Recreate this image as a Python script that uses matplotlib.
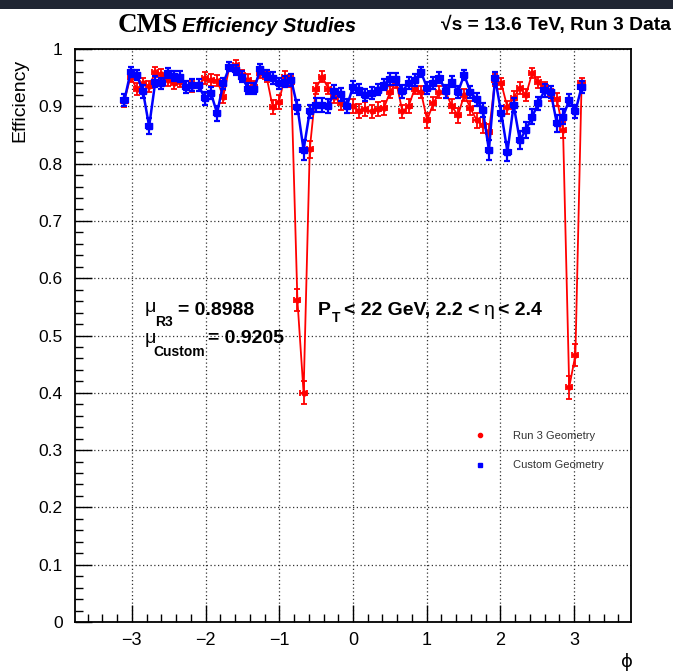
import matplotlib
matplotlib.use("Agg")
import matplotlib.pyplot as plt
import numpy as np
from matplotlib.ticker import MultipleLocator
from matplotlib.patches import Rectangle
from matplotlib.lines import Line2D

# ---------------- data ----------------
n_bins = 75
phi_min, phi_max = -np.pi, np.pi

eff_r3 = [0.910, 0.952, 0.930, 0.940, 0.935, 0.960, 0.956, 0.946, 0.940, 0.943,
          0.934, 0.935, 0.937, 0.949, 0.946, 0.945, 0.917, 0.969, 0.972, 0.955,
          0.946, 0.934, 0.958, 0.952, 0.899, 0.908, 0.952, 0.943, 0.562, 0.400,
          0.825, 0.931, 0.952, 0.931, 0.917, 0.905, 0.900, 0.900, 0.892, 0.895,
          0.891, 0.895, 0.897, 0.925, 0.942, 0.891, 0.900, 0.931, 0.925, 0.876,
          0.905, 0.925, 0.925, 0.900, 0.884, 0.920, 0.897, 0.876, 0.867, 0.855,
          0.946, 0.940, 0.898, 0.915, 0.932, 0.920, 0.958, 0.942, 0.933, 0.920,
          0.912, 0.859, 0.410, 0.466, 0.940]
err_r3 = [0.011, 0.009, 0.010, 0.010, 0.010, 0.009, 0.009, 0.010, 0.010, 0.010,
          0.010, 0.010, 0.010, 0.010, 0.010, 0.010, 0.011, 0.008, 0.008, 0.009,
          0.010, 0.010, 0.009, 0.009, 0.012, 0.012, 0.009, 0.010, 0.020, 0.020,
          0.015, 0.010, 0.009, 0.010, 0.011, 0.012, 0.012, 0.012, 0.012, 0.012,
          0.012, 0.012, 0.012, 0.011, 0.010, 0.012, 0.012, 0.010, 0.011, 0.013,
          0.012, 0.011, 0.011, 0.012, 0.013, 0.011, 0.012, 0.013, 0.014, 0.014,
          0.010, 0.010, 0.012, 0.011, 0.010, 0.011, 0.009, 0.010, 0.010, 0.011,
          0.011, 0.014, 0.020, 0.020, 0.010]

eff_custom = [0.911, 0.960, 0.955, 0.926, 0.865, 0.943, 0.940, 0.958, 0.953, 0.952,
              0.934, 0.937, 0.937, 0.914, 0.923, 0.888, 0.940, 0.969, 0.963, 0.952,
              0.931, 0.931, 0.965, 0.955, 0.949, 0.940, 0.943, 0.946, 0.899, 0.824,
              0.891, 0.902, 0.902, 0.900, 0.926, 0.921, 0.900, 0.934, 0.929, 0.920,
              0.923, 0.929, 0.938, 0.948, 0.948, 0.926, 0.941, 0.946, 0.960, 0.932,
              0.941, 0.950, 0.926, 0.943, 0.925, 0.955, 0.925, 0.912, 0.894, 0.824,
              0.949, 0.888, 0.821, 0.902, 0.841, 0.859, 0.882, 0.905, 0.928, 0.925,
              0.870, 0.882, 0.911, 0.891, 0.934]
err_custom = [0.011, 0.009, 0.009, 0.011, 0.014, 0.010, 0.010, 0.009, 0.009, 0.009,
              0.010, 0.010, 0.010, 0.011, 0.011, 0.013, 0.010, 0.008, 0.009, 0.009,
              0.010, 0.010, 0.009, 0.009, 0.010, 0.010, 0.010, 0.010, 0.012, 0.017,
              0.012, 0.012, 0.012, 0.012, 0.011, 0.011, 0.012, 0.010, 0.010, 0.011,
              0.011, 0.010, 0.010, 0.010, 0.010, 0.011, 0.010, 0.010, 0.009, 0.010,
              0.010, 0.010, 0.011, 0.010, 0.011, 0.009, 0.011, 0.011, 0.012, 0.017,
              0.010, 0.013, 0.017, 0.012, 0.016, 0.014, 0.013, 0.012, 0.011, 0.011,
              0.014, 0.013, 0.011, 0.012, 0.010]

x_ticks = [-3, -2, -1, 0, 1, 2, 3]
y_ticks = [0, 0.1, 0.2, 0.3, 0.4, 0.5, 0.6, 0.7, 0.8, 0.9, 1]
y_tick_labels = ["0", "0.1", "0.2", "0.3", "0.4", "0.5", "0.6", "0.7", "0.8", "0.9", "1"]

mu_r3_txt = "0.8988"
mu_custom_txt = "0.9205"

# ---------------- layout ----------------
W, H = 673, 671
fig = plt.figure(figsize=(W / 100, H / 100), dpi=100)
fig.patch.set_facecolor("white")
SANS = ["Liberation Sans", "DejaVu Sans"]
plt.rcParams["font.family"] = SANS

# dark band at the top of the screenshot
fig.patches.append(Rectangle((0, 1 - 9 / H), 1, 9 / H, transform=fig.transFigure,
                             facecolor="#1f2532", edgecolor="none", zorder=0))

L, R, T, B = 75, 631, 49, 622
ax = fig.add_axes([L / W, 1 - B / H, (R - L) / W, (B - T) / H])

edges = np.linspace(phi_min, phi_max, n_bins + 1)
phi = 0.5 * (edges[:-1] + edges[1:])
half_w = 0.5 * (edges[1] - edges[0])

ax.errorbar(phi, eff_r3, yerr=err_r3, xerr=half_w, fmt="o-", color="#ff0000",
            ms=3.5, lw=1.3, elinewidth=1.3, capsize=2.0, capthick=1.3, zorder=3)
ax.errorbar(phi, eff_custom, yerr=err_custom, xerr=half_w, fmt="s-", color="#0000ff",
            ms=4.5, lw=1.8, elinewidth=1.6, capsize=2.2, capthick=1.6, zorder=4)

ax.set_xlim(-1.2 * np.pi, 1.2 * np.pi)
ax.set_ylim(0, 1)
ax.set_xticks(x_ticks)
ax.set_xticklabels(["\u2212" + str(-v) if v < 0 else str(v) for v in x_ticks])
ax.set_yticks(y_ticks)
ax.set_yticklabels(y_tick_labels)
ax.xaxis.set_minor_locator(MultipleLocator(0.2))
ax.yaxis.set_minor_locator(MultipleLocator(0.02))
ax.tick_params(axis="both", which="both", direction="in", top=False, right=False,
               color="black", width=1.0)
ax.tick_params(axis="x", which="major", length=12, labelsize=13, pad=7)
ax.tick_params(axis="x", which="minor", length=6)
ax.tick_params(axis="y", which="major", length=12, labelsize=12.5, pad=9)
ax.tick_params(axis="y", which="minor", length=6)
ax.grid(True, which="major", linestyle=(0, (1, 2)), color="#333333", lw=0.9)
ax.set_axisbelow(True)
for s in ax.spines.values():
    s.set_linewidth(1.3)
    s.set_color("black")

# axis titles
fig.text(20 / W, 1 - 59 / H, "Efficiency", rotation=90, ha="center", va="top",
         fontsize=14, family=SANS)
fig.text(627 / W, 1 - 662 / H, "\u03d5", ha="center", va="center", fontsize=13,
         family=["DejaVu Sans"])

renderer = fig.canvas.get_renderer()


def place(pieces, x0):
    x = x0
    for s, size, weight, style, ybase, fam, gap in pieces:
        t = fig.text(x / W, 1 - ybase / H, s, fontsize=size, fontweight=weight,
                     fontstyle=style, family=fam, ha="left", va="baseline")
        bb = t.get_window_extent(renderer)
        x = x + bb.width + gap
    return x


SERIF = ["Liberation Serif", "DejaVu Serif"]
# header
place([("CMS", 19.5, "bold", "normal", 32, SERIF, 4),
       ("Efficiency Studies", 14.6, "bold", "italic", 32, SANS, 0)], 118)
place([("\u221as = 13.6 TeV, Run 3 Data", 13.9, "bold", "normal", 30, SANS, 0)], 441)

# mean annotations
place([("\u03bc", 14, "normal", "normal", 312, SANS, 0)], 145)
place([("R3", 10, "bold", "normal", 326, SANS, 0)], 155)
place([("= " + mu_r3_txt, 14, "bold", "normal", 315, SANS, 0)], 178)
place([("\u03bc", 14, "normal", "normal", 343, SANS, 0)], 145)
place([("Custom", 10, "bold", "normal", 356, SANS, 0)], 153)
place([("= " + mu_custom_txt, 14, "bold", "normal", 343, SANS, 0)], 208)

# kinematic selection
xx = place([("P", 14, "bold", "normal", 315, SANS, 1)], 318)
xx = place([("T", 10, "bold", "normal", 322, SANS, 4)], xx)
xx = place([("< 22 GeV, 2.2 <", 14, "bold", "normal", 315, SANS, 4)], xx)
xx = place([("\u03b7", 14, "normal", "normal", 315, SANS, 4)], xx)
place([("< 2.4", 14, "bold", "normal", 315, SANS, 0)], xx)

# legend
handles = [Line2D([], [], marker="o", color="#ff0000", ls="none", ms=3),
           Line2D([], [], marker="s", color="#0000ff", ls="none", ms=3.5)]
leg = ax.legend(handles, ["Run 3 Geometry", "Custom Geometry"], loc="upper left",
                bbox_to_anchor=(469 / W, 1 - 431 / H), bbox_transform=fig.transFigure,
                frameon=False, fontsize=8, handlelength=2, handletextpad=2,
                labelspacing=1.75, borderpad=0, borderaxespad=0)
for t in leg.get_texts():
    t.set_color("#333333")

fig.savefig("out.png", dpi=100)
